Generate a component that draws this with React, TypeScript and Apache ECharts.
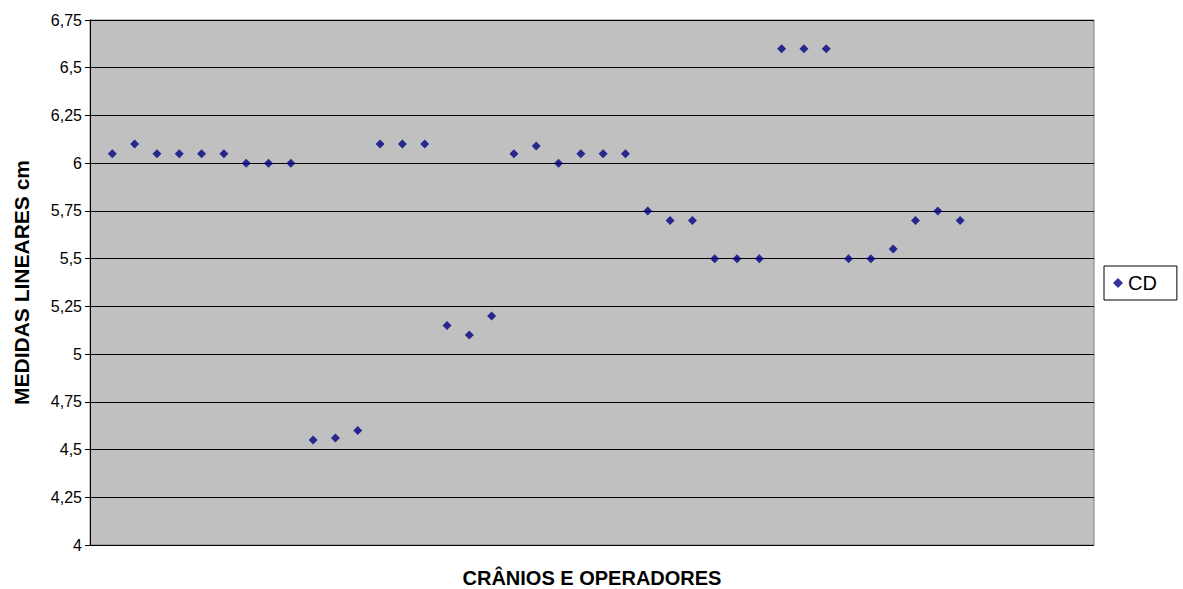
import React, { useEffect, useRef } from "react";
import * as echarts from "echarts";

const positions = [
  1, 2, 3, 4, 5, 6, 7, 8, 9, 10, 11, 12, 13, 14, 15, 16, 17, 18, 19, 20,
  21, 22, 23, 24, 25, 26, 27, 28, 29, 30, 31, 32, 33, 34, 35, 36, 37, 38, 39,
];
const cdValues = [
  6.05, 6.1, 6.05, 6.05, 6.05, 6.05, 6.0, 6.0, 6.0, 4.55, 4.56, 4.6, 6.1, 6.1,
  6.1, 5.15, 5.1, 5.2, 6.05, 6.09, 6.0, 6.05, 6.05, 6.05, 5.75, 5.7, 5.7, 5.5,
  5.5, 5.5, 6.6, 6.6, 6.6, 5.5, 5.5, 5.55, 5.7, 5.75, 5.7,
];
const seriesName = "CD";
const yTitle = "MEDIDAS LINEARES cm";
const xTitle = "CRÂNIOS E OPERADORES";

export default function App() {
  const ref = useRef<HTMLDivElement>(null);
  useEffect(() => {
    if (!ref.current) return;
    const chart = echarts.init(ref.current, null, { renderer: "svg" });
    const font = "Liberation Sans, Arial, sans-serif";
    chart.setOption({
      animation: false,
      textStyle: { fontFamily: font },
      grid: {
        left: 90, top: 20, width: 1004, height: 525,
        outerBoundsMode: "none", containLabel: false,
        show: true, backgroundColor: "#c0c0c0", borderColor: "#808080", borderWidth: 1,
      },
      legend: {
        show: true,
        left: 1104,
        top: 266,
        orient: "vertical",
        borderColor: "#000",
        borderWidth: 1,
        padding: [7, 20, 7, 9],
        itemWidth: 10,
        itemHeight: 10,
        textStyle: { fontSize: 20, color: "#000", fontFamily: font },
        data: [{ name: seriesName, icon: "diamond" }],
      },
      xAxis: {
        type: "value",
        min: 0,
        max: 45,
        axisLine: { show: false },
        axisTick: { show: false },
        axisLabel: { show: false },
        splitLine: { show: false },
        name: xTitle,
        nameLocation: "middle",
        nameGap: 23,
        nameTextStyle: { fontWeight: "bold", fontSize: 20, color: "#000", fontFamily: font },
      },
      yAxis: {
        type: "value",
        min: 4,
        max: 6.75,
        interval: 0.25,
        axisLine: { show: true, lineStyle: { color: "#000", width: 1 } },
        axisTick: { show: true, length: 5, lineStyle: { color: "#000" } },
        axisLabel: {
          fontSize: 16,
          color: "#000",
          fontFamily: font,
          margin: 8,
          formatter: (v: number) => String(Math.round(v * 100) / 100).replace(".", ","),
        },
        splitLine: { show: true, lineStyle: { color: "#000", width: 1 } },
        name: yTitle,
        nameLocation: "middle",
        nameGap: 58,
        nameTextStyle: { fontWeight: "bold", fontSize: 21, color: "#000", fontFamily: font },
      },
      series: [
        {
          name: seriesName,
          type: "scatter",
          symbol: "diamond",
          symbolSize: 9,
          itemStyle: { color: "#000080" },
          data: positions.map((p, i) => [p, cdValues[i]]),
        },
      ],
    });
    return () => chart.dispose();
  }, []);
  return <div ref={ref} style={{ width: 1183, height: 589, position: "absolute", left: 0, top: 0 }} />;
}
